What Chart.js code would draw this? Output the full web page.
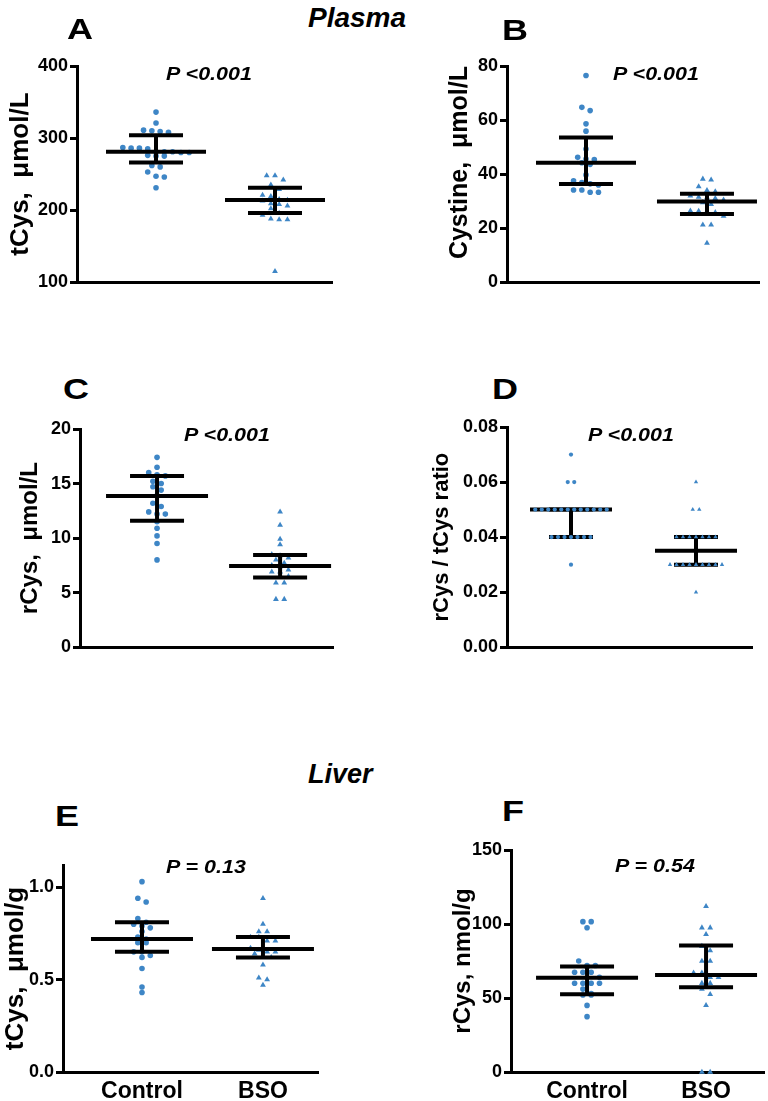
<!DOCTYPE html>
<html><head><meta charset="utf-8">
<script src="https://cdn.jsdelivr.net/npm/chart.js@4.4.0/dist/chart.umd.min.js"></script>
<style>
html,body{margin:0;padding:0;background:#fff;}
body{width:768px;height:1101px;position:relative;overflow:hidden;font-family:"Liberation Sans",Arial,sans-serif;}
canvas{position:absolute;}
.t{position:absolute;line-height:1;white-space:nowrap;color:#000;font-weight:bold;z-index:5;}
.letter{font-size:30px;transform:scaleX(1.2);transform-origin:left top;}
.sec{font-size:28px;font-style:italic;}
.p{font-size:19px;font-style:italic;text-align:center;width:160px;transform:scaleX(1.13);transform-origin:center top;}
</style></head><body>
<div class="t sec" style="left:308px;top:4px;">Plasma</div>
<div class="t sec" style="left:308px;top:761px;font-size:27px;">Liver</div>
<div class="t letter" style="left:67px;top:14px;">A</div>
<div class="t letter" style="left:502px;top:15px;">B</div>
<div class="t letter" style="left:63px;top:374px;">C</div>
<div class="t letter" style="left:492px;top:374px;">D</div>
<div class="t letter" style="left:55px;top:801px;">E</div>
<div class="t letter" style="left:502px;top:796px;">F</div>
<div class="t p" style="left:129px;top:64px;">P &lt;0.001</div>
<div class="t p" style="left:576px;top:64px;">P &lt;0.001</div>
<div class="t p" style="left:147px;top:425px;">P &lt;0.001</div>
<div class="t p" style="left:551px;top:425px;">P &lt;0.001</div>
<div class="t p" style="left:126px;top:857px;">P = 0.13</div>
<div class="t p" style="left:575px;top:856px;">P = 0.54</div>
<script>
// ---------- data ----------
const categories = ['Control', 'BSO'];

// A: plasma tCys (µmol/L)
const plasmaTCysControl = [336, 321, 311, 310, 309, 308, 287, 286, 286, 285, 281, 281, 281, 280, 280, 276, 275, 275, 262, 260, 253, 247, 246, 231];
const plasmaTCysBSO = [248, 248, 242, 235, 229, 221, 219, 215, 214, 213, 209, 208, 206, 202, 196, 193, 188, 187, 187, 115];
const plasmaTCysMedian = [281, 214];
const plasmaTCysQ1 = [266, 196];
const plasmaTCysQ3 = [304, 231];
const plasmaTCysTicks = [100, 200, 300, 400];

// B: plasma cystine (µmol/L)
const plasmaCystineControl = [76.5, 64.7, 63.5, 58.6, 55.9, 49.3, 46.2, 45.6, 45.4, 44.2, 43.6, 39.7, 37.5, 36.9, 36.4, 36.0, 34.1, 34.1, 33.3, 33.3];
const plasmaCystineBSO = [38.2, 37.9, 35.4, 34.0, 33.5, 32.0, 31.5, 31.3, 31.0, 30.5, 29.5, 28.8, 26.4, 26.3, 26.2, 25.8, 24.5, 21.2, 21.2, 14.5];
const plasmaCystineMedian = [44.2, 29.9];
const plasmaCystineQ1 = [36.3, 25.2];
const plasmaCystineQ3 = [53.5, 32.7];
const plasmaCystineTicks = [0, 20, 40, 60, 80];

// C: plasma rCys (µmol/L)
const plasmaRCysControl = [17.4, 16.5, 16.0, 15.8, 15.7, 15.2, 15.0, 14.7, 14.4, 13.9, 13.2, 12.9, 12.4, 12.2, 12.2, 11.5, 10.9, 10.2, 9.5, 8.0];
const plasmaRCysBSO = [12.4, 11.2, 9.9, 9.4, 8.5, 8.4, 8.2, 8.0, 7.7, 7.5, 7.4, 7.1, 6.9, 6.9, 6.5, 6.4, 5.9, 5.9, 4.4, 4.4];
const plasmaRCysMedian = [13.85, 7.45];
const plasmaRCysQ1 = [11.6, 6.4];
const plasmaRCysQ3 = [15.7, 8.45];
const plasmaRCysTicks = [0, 5, 10, 15, 20];

// D: plasma rCys / tCys ratio
const ratioControl = [0.07, 0.06, 0.06, 0.05, 0.05, 0.05, 0.05, 0.05, 0.05, 0.05, 0.05, 0.05, 0.05, 0.05, 0.05, 0.04, 0.04, 0.04, 0.04, 0.04, 0.04, 0.04, 0.03];
const ratioBSO = [0.06, 0.05, 0.05, 0.04, 0.04, 0.04, 0.04, 0.04, 0.04, 0.04, 0.03, 0.03, 0.03, 0.03, 0.03, 0.03, 0.03, 0.03, 0.03, 0.02];
const ratioMedian = [0.05, 0.035];
const ratioQ1 = [0.04, 0.03];
const ratioQ3 = [0.05, 0.04];
const ratioTicks = [0, 0.02, 0.04, 0.06, 0.08];

// E: liver tCys (µmol/g)
const liverTCysControl = [1.03, 0.94, 0.92, 0.83, 0.81, 0.80, 0.79, 0.78, 0.76, 0.73, 0.72, 0.70, 0.70, 0.65, 0.65, 0.63, 0.62, 0.56, 0.46, 0.43];
const liverTCysBSO = [0.94, 0.80, 0.76, 0.76, 0.73, 0.73, 0.71, 0.71, 0.67, 0.66, 0.65, 0.65, 0.64, 0.62, 0.62, 0.58, 0.51, 0.50, 0.47];
const liverTCysMedian = [0.72, 0.665];
const liverTCysQ1 = [0.65, 0.62];
const liverTCysQ3 = [0.81, 0.73];
const liverTCysTicks = [0, 0.5, 1.0];

// F: liver rCys (nmol/g)
const liverRCysControl = [101.6, 101.6, 97.5, 75, 72, 72, 71, 67.4, 67.4, 67.4, 64, 60, 60, 60, 60, 56, 53, 52, 52, 45, 37.4];
const liverRCysBSO = [112, 97.5, 97.5, 93, 85, 82, 75, 75, 67, 67, 64, 64, 60, 60, 56, 52.5, 45, 0, 0];
const liverRCysMedian = [63.7, 65.5];
const liverRCysQ1 = [52.5, 57.2];
const liverRCysQ3 = [71.2, 85.4];
const liverRCysTicks = [0, 50, 100, 150];

// ---------- layout / style ----------
const BLUE = 'rgb(62,134,198)';
const FONT = '"Liberation Sans", Arial, sans-serif';

const panels = [
  { canvas:{left:0,top:40,width:345,height:255}, area:{left:77,top:66,right:332,bottom:287},
    x:[0.336,2.479], y:[100,400], ticks:plasmaTCysTicks, dec:0,
    title:'tCys,  μmol/L', titleSize:26, titleCenter:21, titleAlign:'center',
    control:plasmaTCysControl, bso:plasmaTCysBSO, med:plasmaTCysMedian, q1:plasmaTCysQ1, q3:plasmaTCysQ3,
    r:2.8, spacing:8.3, medHalf:50, capHalf:27, pointsOnTop:false, xLabels:false },
  { canvas:{left:420,top:40,width:348,height:255}, area:{left:507,top:66,right:759,bottom:287},
    x:[0.347,2.43], y:[0,80], ticks:plasmaCystineTicks, dec:0,
    title:'Cystine,  μmol/L', titleSize:25, titleCenter:460, titleAlign:'end',
    control:plasmaCystineControl, bso:plasmaCystineBSO, med:plasmaCystineMedian, q1:plasmaCystineQ1, q3:plasmaCystineQ3,
    r:2.8, spacing:8.3, medHalf:50, capHalf:27, pointsOnTop:false, xLabels:false },
  { canvas:{left:0,top:405,width:345,height:255}, area:{left:80,top:429,right:333,bottom:651},
    x:[0.374,2.43], y:[0,20], ticks:plasmaRCysTicks, dec:0,
    title:'rCys,  μmol/L', titleSize:24, titleCenter:30, titleAlign:'center',
    control:plasmaRCysControl, bso:plasmaRCysBSO, med:plasmaRCysMedian, q1:plasmaRCysQ1, q3:plasmaRCysQ3,
    r:2.8, spacing:8.3, medHalf:51, capHalf:27, pointsOnTop:false, xLabels:false },
  { canvas:{left:420,top:405,width:348,height:255}, area:{left:507,top:427,right:752,bottom:650},
    x:[0.488,2.448], y:[0,0.08], ticks:ratioTicks, dec:2,
    title:'rCys / tCys ratio', titleSize:22, titleCenter:442, titleAlign:'center',
    control:ratioControl, bso:ratioBSO, med:ratioMedian, q1:ratioQ1, q3:ratioQ3,
    r:2.1, spacing:6.5, medHalf:41, capHalf:22, pointsOnTop:true, xLabels:false },
  { canvas:{left:0,top:845,width:345,height:256}, area:{left:63,top:865,right:318,bottom:1072},
    x:[0.347,2.455], y:[0,1.12], ticks:liverTCysTicks, dec:1,
    title:'tCys,  μmol/g', titleSize:26, titleCenter:15, titleAlign:'center',
    control:liverTCysControl, bso:liverTCysBSO, med:liverTCysMedian, q1:liverTCysQ1, q3:liverTCysQ3,
    r:2.8, spacing:8.3, medHalf:51, capHalf:27, pointsOnTop:false, xLabels:true },
  { canvas:{left:420,top:830,width:348,height:271}, area:{left:511,top:850,right:764,bottom:1072},
    x:[0.361,2.487], y:[0,150], ticks:liverRCysTicks, dec:0,
    title:'rCys, nmol/g', titleSize:24, titleCenter:463, titleAlign:'center',
    control:liverRCysControl, bso:liverRCysBSO, med:liverRCysMedian, q1:liverRCysQ1, q3:liverRCysQ3,
    r:2.8, spacing:8.3, medHalf:51, capHalf:27, pointsOnTop:false, xLabels:true }
];

function lineDs(pts, order){
  return { type:'line', data:pts, borderColor:'#000', borderWidth:4, pointRadius:0,
           fill:false, showLine:true, order:order, clip:false, borderCapStyle:'butt' };
}

function makeChart(p){
  const cv = document.createElement('canvas');
  cv.width = p.canvas.width; cv.height = p.canvas.height;
  cv.style.left = p.canvas.left + 'px'; cv.style.top = p.canvas.top + 'px';
  cv.style.width = p.canvas.width + 'px'; cv.style.height = p.canvas.height + 'px';
  document.body.appendChild(cv);

  const yWidth = p.area.left - p.canvas.left;
  const xHeight = p.canvas.top + p.canvas.height - p.area.bottom;
  const lh = p.titleSize * 1.2;
  const titlePad = Math.max(0, p.titleCenter - p.canvas.left - lh / 2);
  const unitPx = (p.area.right - p.area.left) / (p.x[1] - p.x[0]);
  const mh = p.medHalf / unitPx, ch = p.capHalf / unitPx;
  const barOrder = p.pointsOnTop ? 2 : 0;
  const ptOrder = 1;

  const datasets = [
    { label:categories[0], data:p.control.map(v => ({x:1, y:v})), pointStyle:'circle',
      pointRadius:p.r, backgroundColor:BLUE, borderColor:BLUE, borderWidth:0, order:ptOrder, clip:false },
    { label:categories[1], data:p.bso.map(v => ({x:2, y:v})), pointStyle:'triangle',
      pointRadius:p.r * 1.2, backgroundColor:BLUE, borderColor:BLUE, borderWidth:0, order:ptOrder, clip:false }
  ];
  [0, 1].forEach(i => {
    const c = i + 1;
    datasets.push(lineDs([{x:c - mh, y:p.med[i]}, {x:c + mh, y:p.med[i]}], barOrder));
    datasets.push(lineDs([{x:c - ch, y:p.q1[i]}, {x:c + ch, y:p.q1[i]}], barOrder));
    datasets.push(lineDs([{x:c - ch, y:p.q3[i]}, {x:c + ch, y:p.q3[i]}], barOrder));
    datasets.push(lineDs([{x:c, y:p.q1[i]}, {x:c, y:p.q3[i]}], barOrder));
  });

  const chart = new Chart(cv, {
    type:'scatter',
    data:{ datasets },
    options:{
      responsive:false, animation:false, devicePixelRatio:1,
      layout:{ padding:{ left:0, top:p.area.top - p.canvas.top,
                         right:p.canvas.left + p.canvas.width - p.area.right, bottom:0 } },
      plugins:{ legend:{display:false}, tooltip:{enabled:false} },
      scales:{
        x:{ type:'linear', min:p.x[0], max:p.x[1],
            grid:{ display:false, drawTicks:false },
            border:{ display:true, color:'#000', width:3 },
            ticks:{ display:p.xLabels, color:'#000', padding:6, autoSkip:false, maxRotation:0,
                    font:{ family:FONT, size:23, weight:'bold' },
                    callback:(v) => categories[Math.round(v) - 1] || '' },
            afterBuildTicks:(s) => { s.ticks = categories.map((c, i) => ({ value:i + 1 })); },
            afterFit:(s) => { s.height = xHeight; } },
        y:{ type:'linear', min:p.y[0], max:p.y[1],
            grid:{ display:true, drawOnChartArea:false, drawTicks:true, tickLength:7, color:'#000', lineWidth:3 },
            border:{ display:true, color:'#000', width:3 },
            ticks:{ color:'#000', padding:2, font:{ family:FONT, size:18, weight:'bold' },
                    callback:(v) => Number(v).toFixed(p.dec) },
            afterBuildTicks:(s) => { s.ticks = p.ticks.map(v => ({ value:v })); },
            title:{ display:true, text:p.title, color:'#000', align:p.titleAlign,
                    font:{ family:FONT, size:p.titleSize, weight:'bold' },
                    padding:{ top:titlePad, bottom:0 } },
            afterFit:(s) => { s.width = yWidth; } }
      }
    }
  });

  // arrange points in rows (scatter-dot layout) using the chart's own scales
  const xs = chart.scales.x, ys = chart.scales.y;
  [0, 1].forEach(di => {
    const ds = chart.data.datasets[di];
    const cx = xs.getPixelForValue(di + 1);
    const vals = ds.data.map(d => d.y);
    const order = vals.map((v, i) => i).sort((a, b) => vals[b] - vals[a]);
    const bins = []; let cur = null;
    order.forEach(i => {
      const py = ys.getPixelForValue(vals[i]);
      if (!cur || py - cur.start > p.r * 1.9) { cur = { start:py, idx:[] }; bins.push(cur); }
      cur.idx.push(i);
    });
    bins.forEach(b => {
      const n = b.idx.length;
      b.idx.forEach((i, k) => {
        ds.data[i].x = xs.getValueForPixel(cx + (k - (n - 1) / 2) * p.spacing);
      });
    });
  });
  chart.update('none');
}

panels.forEach(makeChart);
</script>
</body></html>
